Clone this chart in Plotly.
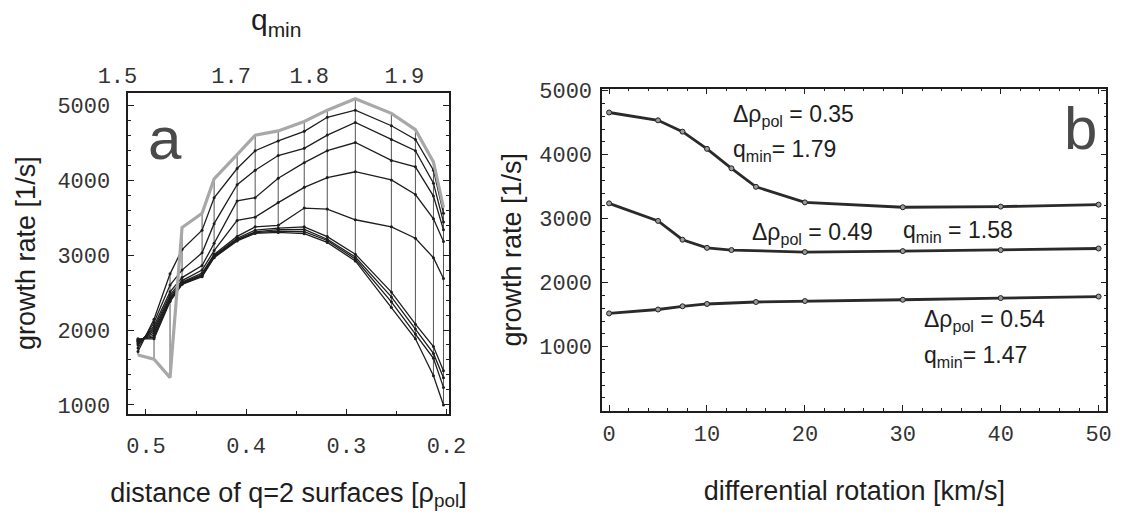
import plotly.graph_objects as go

# ---------------- Panel a data ----------------
dist_q2 = [0.508, 0.492, 0.476, 0.464, 0.444, 0.432, 0.409, 0.391, 0.368,
           0.342, 0.319, 0.291, 0.255, 0.231, 0.213, 0.203]

growth_v00 = [1667, 1610, 1364, 3368, 3558, 4017, 4342, 4601, 4658, 4783, 4935, 5087, 4892, 4675, 4243, 3636]
growth_v05 = [1714, 2143, 2750, 3074, 3333, 3766, 4156, 4394, 4524, 4653, 4840, 4935, 4727, 4545, 4134, 3558]
growth_v07 = [1760, 2100, 2600, 2800, 3030, 3420, 3939, 4134, 4329, 4425, 4602, 4770, 4545, 4394, 3961, 3442]
growth_v10 = [1800, 2056, 2510, 2700, 2860, 3160, 3723, 3766, 4026, 4234, 4394, 4503, 4264, 4178, 3788, 3338]
growth_v12 = [1820, 2020, 2470, 2660, 2800, 3060, 3463, 3507, 3701, 3905, 4035, 4113, 4004, 3809, 3485, 3182]
growth_v15 = [1840, 1990, 2440, 2640, 2760, 3010, 3250, 3377, 3398, 3628, 3615, 3472, 3377, 3225, 2965, 2688]
growth_v20 = [1850, 1960, 2420, 2630, 2740, 2995, 3225, 3333, 3360, 3377, 3247, 3013, 2506, 2078, 1779, 1455]
growth_v30 = [1865, 1930, 2400, 2620, 2730, 2987, 3210, 3310, 3340, 3342, 3212, 2974, 2442, 2013, 1688, 1364]
growth_v40 = [1875, 1905, 2390, 2615, 2720, 2975, 3200, 3300, 3320, 3312, 3195, 2948, 2377, 1948, 1623, 1234]
growth_v50 = [1883, 1883, 2380, 2610, 2710, 2966, 3190, 3290, 3303, 3286, 3169, 2922, 2299, 1883, 1390, 1000]

black_series = [growth_v05, growth_v07, growth_v10, growth_v12, growth_v15,
                growth_v20, growth_v30, growth_v40, growth_v50]

dist_ticks = [0.5, 0.4, 0.3, 0.2]
dist_ticklabels = ["0.5", "0.4", "0.3", "0.2"]
qmin_tick_pos = [0.5285, 0.415, 0.337, 0.242]
qmin_ticklabels = ["1.5", "1.7", "1.8", "1.9"]
rate_ticks = [1000, 2000, 3000, 4000, 5000]

# ---------------- Panel b data ----------------
rot_top = [0, 5, 7.5, 10, 12.5, 15, 20, 30, 40, 50]
rate_top = [4659, 4537, 4360, 4091, 3787, 3498, 3255, 3179, 3189, 3220]
rot_mid = [0, 5, 7.5, 10, 12.5, 20, 30, 40, 50]
rate_mid = [3240, 2966, 2672, 2545, 2510, 2479, 2494, 2510, 2535]
rot_bot = [0, 5, 7.5, 10, 15, 20, 30, 40, 50]
rate_bot = [1521, 1582, 1632, 1668, 1699, 1714, 1734, 1760, 1784]

W, H = 1145, 516
MONO = "Liberation Mono, Courier New, monospace"
SANS = "Liberation Sans, Arial, sans-serif"
INK = "#1e1e1e"
TICKINK = "#333333"

# panel a geometry: frame 125..452 px; 0.5 at px 143, 1023 px per unit
PX_PER_UNIT = 1023.0
XA_RANGE = [0.5 + (143 - 125) / PX_PER_UNIT, 0.5 - (452 - 143) / PX_PER_UNIT]
TOP_LEFT_PX = 100
XTOP_RANGE = [0.5 + (143 - TOP_LEFT_PX) / PX_PER_UNIT, XA_RANGE[1]]
YA_DOMAIN = [(H - 417) / H, (H - 87) / H]

fig = go.Figure()

# carrier trace (no visible marks) so the top q_min axis is drawn
fig.add_trace(go.Scatter(x=qmin_tick_pos, y=[None] * len(qmin_tick_pos), mode="markers",
                         xaxis="x3", yaxis="y3", hoverinfo="skip", showlegend=False))

# mesh verticals (same distance, all rotation levels)
all_series = [growth_v00] + black_series
vx, vy = [], []
for j, d in enumerate(dist_q2):
    col = [s[j] for s in all_series]
    vx += [d, d, None]
    vy += [min(col), max(col), None]
fig.add_trace(go.Scatter(x=vx, y=vy, mode="lines", xaxis="x", yaxis="y",
                         line=dict(color="#555555", width=1), hoverinfo="skip"))

for s in black_series:
    fig.add_trace(go.Scatter(x=dist_q2, y=s, mode="lines+markers", xaxis="x", yaxis="y",
                             line=dict(color=INK, width=1.3),
                             marker=dict(size=3, color=INK)))

fig.add_trace(go.Scatter(x=dist_q2, y=growth_v00, mode="lines", xaxis="x", yaxis="y",
                         line=dict(color="#a8a8a8", width=3.2)))

# panel b curves
for xs, ys in [(rot_top, rate_top), (rot_mid, rate_mid), (rot_bot, rate_bot)]:
    fig.add_trace(go.Scatter(x=xs, y=ys, mode="lines+markers", xaxis="x2", yaxis="y2",
                             line=dict(color="#2a2a2a", width=2.8),
                             marker=dict(size=5, color="#999999", line=dict(color="#222", width=1))))

axis_common = dict(showline=True, linecolor=INK, linewidth=1.5, showgrid=False,
                   zeroline=False, ticks="inside", tickcolor=INK,
                   tickfont=dict(family=MONO, size=22, color=TICKINK))
title_font = dict(family=SANS, size=27, color=INK)

fig.update_layout(
    width=W, height=H, margin=dict(l=0, r=0, t=0, b=0),
    paper_bgcolor="white", plot_bgcolor="rgba(0,0,0,0)", showlegend=False,
    xaxis=dict(domain=[125 / W, 452 / W], range=XA_RANGE, anchor="y", mirror=True,
               tickvals=dist_ticks, ticktext=dist_ticklabels, ticklen=5,
               ticklabelstandoff=11,
               minor=dict(ticks="inside", ticklen=3, dtick=0.05, tickcolor=INK),
               title=dict(text="distance of q=2 surfaces [ρ<sub>pol</sub>]",
                          font=title_font, standoff=24),
               **axis_common),
    yaxis=dict(domain=YA_DOMAIN, range=[883, 5169], anchor="x",
               tickvals=rate_ticks, ticklen=6, mirror="ticks", ticklabelstandoff=12,
               minor=dict(ticks="inside", ticklen=3, dtick=200, tickcolor=INK),
               title=dict(text="growth rate [1/s]", font=title_font, standoff=14),
               **axis_common),
    xaxis3=dict(domain=[TOP_LEFT_PX / W, 452 / W], side="top", anchor="y3", range=XTOP_RANGE,
                tickvals=qmin_tick_pos, ticktext=qmin_ticklabels,
                showline=False, showgrid=False,
                zeroline=False, ticks="", ticklabelstandoff=4,
                tickfont=dict(family=MONO, size=22, color=TICKINK),
                title=dict(text="q<sub>min</sub>", font=dict(family=SANS, size=30, color=INK),
                           standoff=25)),
    yaxis3=dict(domain=YA_DOMAIN, anchor="x3", range=[0, 1], visible=False),
    xaxis2=dict(domain=[609 / W, 1124 / W], range=[-0.7, 50.8], anchor="y2",
                tick0=0, dtick=10, ticklen=6, mirror="ticks", ticklabelstandoff=2,
                minor=dict(ticks="inside", ticklen=3, dtick=2, tickcolor=INK),
                title=dict(text="differential rotation [km/s]", font=title_font, standoff=34),
                **axis_common),
    yaxis2=dict(domain=[(H - 414) / H, (H - 83) / H], range=[0, 5030], anchor="x2",
                tickvals=rate_ticks, ticklen=6, mirror="ticks", ticklabelstandoff=4,
                minor=dict(ticks="inside", ticklen=3, dtick=200, tickcolor=INK),
                title=dict(text="growth rate [1/s]", font=title_font, standoff=10),
                **axis_common),
)

ann_font = dict(family=SANS, size=23, color=INK)

def P(px, py):
    return px / W, 1 - py / H

annots = [
    ("a", 162, 134, 60, "#4a4a4a"),
    ("b", 1097, 124, 60, "#4a4a4a"),
]
for text, px, py, size, color in annots:
    x, y = P(px, py)
    fig.add_annotation(text=text, x=x, y=y, xref="paper", yref="paper", showarrow=False,
                       xanchor="center", yanchor="middle",
                       font=dict(family=SANS, size=size, color=color))

labels_b = [
    ("Δρ<sub>pol</sub> = 0.35", 741, 110),
    ("q<sub>min</sub>= 1.79", 741, 146),
    ("Δρ<sub>pol</sub> = 0.49", 760, 232),
    ("q<sub>min</sub> = 1.58", 914, 230),
    ("Δρ<sub>pol</sub> = 0.54", 936, 321),
    ("q<sub>min</sub>= 1.47", 936, 358),
]
for text, px, py in labels_b:
    x, y = P(px, py)
    fig.add_annotation(text=text, x=x, y=y, xref="paper", yref="paper", showarrow=False,
                       xanchor="left", yanchor="middle", font=ann_font)

fig.write_html("out.html")
